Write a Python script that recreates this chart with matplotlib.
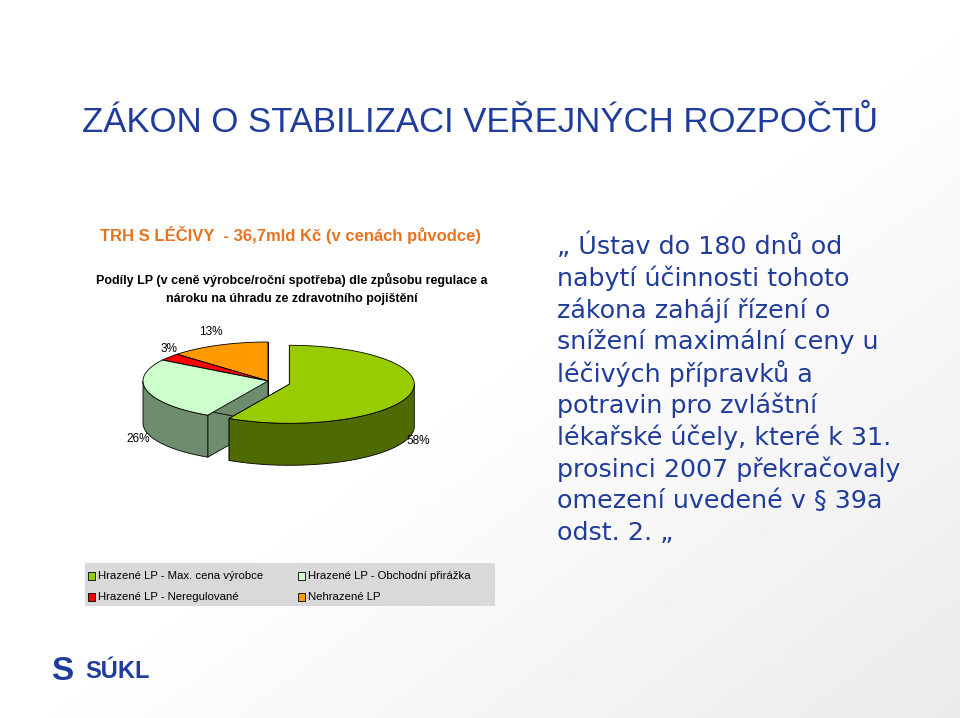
import numpy as np
import matplotlib
matplotlib.use("Agg")
import matplotlib.pyplot as plt
from matplotlib.patches import Polygon, Rectangle

categories = ["Hrazené LP - Max. cena výrobce", "Hrazené LP - Obchodní přirážka",
              "Hrazené LP - Neregulované", "Nehrazené LP"]
values = [58, 26, 3, 13]
labels = ["58%", "26%", "3%", "13%"]
top_colors = ["#99cc00", "#ccffcc", "#ff0000", "#ff9900"]
side_colors = ["#4f6b00", "#6e8c6e", "#7a0000", "#8a5a00"]
explode = [22, 0, 0, 0]

title = "ZÁKON O STABILIZACI VEŘEJNÝCH ROZPOČTŮ"
subtitle = "TRH S LÉČIVY  - 36,7mld Kč (v cenách původce)"
chart_title = "Podíly LP (v ceně výrobce/roční spotřeba) dle způsobu regulace a\nnároku na úhradu ze zdravotního pojištění"
body = ["„ Ústav do 180 dnů od", "nabytí účinnosti tohoto", "zákona zahájí řízení o",
        "snížení maximální ceny u", "léčivých přípravků a", "potravin pro zvláštní",
        "lékařské účely, které k 31.", "prosinci 2007 překračovaly",
        "omezení uvedené v § 39a", "odst. 2. „"]

fig = plt.figure(figsize=(9.6, 7.18), dpi=100)
ax = fig.add_axes([0, 0, 1, 1])
ax.set_xlim(0, 960); ax.set_ylim(718, 0); ax.axis("off")

g = np.linspace(0, 1, 200)
X, Y = np.meshgrid(g, g)
bg = 1 - 0.08 * np.clip((X + Y - 1.0), 0, 1)
ax.imshow(bg, extent=(0, 960, 718, 0), cmap="gray", vmin=0, vmax=1, zorder=0, aspect="auto")

sans = ["Liberation Sans", "DejaVu Sans"]
ax.text(480, 123, title, color="#1f3c9c", fontsize=25, ha="center", va="center", family=sans)
ax.text(291, 235, subtitle, color="#e8731e", fontsize=12, ha="center", va="center",
        family=sans, fontweight="bold")
ax.text(292, 289, chart_title, color="black", fontsize=9, ha="center", va="center",
        family=sans, fontweight="bold", linespacing=1.6)

for i, line in enumerate(body):
    ax.text(557, 246 + i * 31.9, line, color="#1f3c9c", fontsize=18.3, ha="left", va="center",
            family=["DejaVu Sans"])

cx, cy, rx, ry, depth = 268, 381, 125, 39, 42
fr = np.array(values) / sum(values)
start = 90.0
wedges = []
for i, f in enumerate(fr):
    a0 = start; a1 = start - f * 360
    start = a1
    mid = np.radians((a0 + a1) / 2)
    ox = cx + explode[i] * np.cos(mid); oy = cy - explode[i] * np.sin(mid) * 0.6
    wedges.append((i, a0, a1, ox, oy, mid))

def pt(ox, oy, t, d=0):
    return (ox + rx * np.cos(t), oy - ry * np.sin(t) + d)

order = sorted(wedges, key=lambda w: w[4] - ry * np.sin(w[5]))
z = 2
for (i, a0, a1, ox, oy, mid) in order:
    ts = np.radians(np.linspace(a1, a0, 200))
    for ang in (a0, a1):
        t = np.radians(ang)
        p = pt(ox, oy, t)
        quad = [(ox, oy), p, (p[0], p[1] + depth), (ox, oy + depth)]
        ax.add_patch(Polygon(quad, closed=True, fc=side_colors[i], ec="black", lw=0.6, zorder=z))
    front = ts[np.sin(ts) <= 0]
    if len(front) > 1:
        topa = [pt(ox, oy, t) for t in front]
        bot = [pt(ox, oy, t, depth) for t in front[::-1]]
        ax.add_patch(Polygon(topa + bot, closed=True, fc=side_colors[i], ec="black", lw=0.6, zorder=z))
    z += 1
    poly = [(ox, oy)] + [pt(ox, oy, t) for t in ts]
    ax.add_patch(Polygon(poly, closed=True, fc=top_colors[i], ec="black", lw=0.6, zorder=z))
    z += 1

lab_r = [1.24, 1.07, 1.0, 1.15]
for (i, a0, a1, ox, oy, mid) in wedges:
    lx = cx + rx * lab_r[i] * np.cos(mid)
    ly = cy - ry * lab_r[i] * np.sin(mid) + (depth + 6 if np.sin(mid) < 0 else -8)
    ax.text(lx, ly, labels[i], fontsize=8.5, ha="center", va="center", family=sans, zorder=20)

ax.add_patch(Rectangle((85, 563), 410, 43, fc="#d9d9d9", ec="none", zorder=1))
pos = [(88, 576), (298, 576), (88, 597), (298, 597)]
for i, (x, y) in enumerate(pos):
    ax.add_patch(Rectangle((x, y - 4), 7, 8, fc=top_colors[i], ec="black", lw=0.6, zorder=3))
    ax.text(x + 10, y, categories[i], fontsize=8.2, ha="left", va="center", family=sans, zorder=3)

ax.text(62, 671, "S", color="#1f3c9c", fontsize=24, fontweight="bold", ha="center", va="center",
        family=sans)
ax.text(85, 671, "SÚKL", color="#1f3c9c", fontsize=17, fontweight="bold", ha="left", va="center",
        family=sans)

fig.savefig("out.png", dpi=100)
